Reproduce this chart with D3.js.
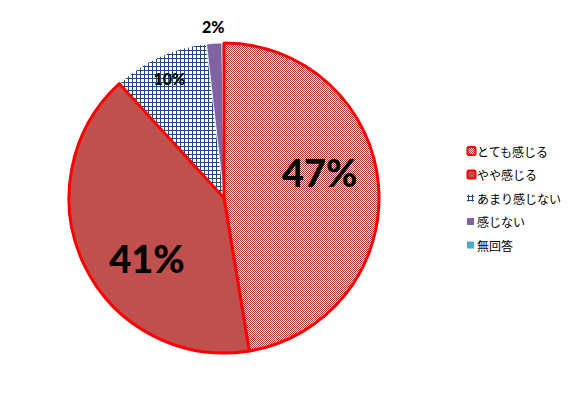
<!DOCTYPE html>
<html><head><meta charset="utf-8">
<script src="https://cdn.jsdelivr.net/npm/d3@7"></script>
<style>html,body{margin:0;padding:0;background:#fff;}svg{display:block;}</style>
</head><body>
<svg id="c" width="576" height="399"></svg>
<script>
const categories = ["とても感じる", "やや感じる", "あまり感じない", "感じない", "無回答"];
const values = [47.4, 40.8, 10.0, 1.6, 0.2];
const labels = ["47%", "41%", "10%", "2%", ""];

const svg = d3.select("#c");
const cx = 224, cy = 198, R = 155;

const defs = svg.append("defs");
const p1 = defs.append("pattern").attr("id", "chk").attr("patternUnits", "userSpaceOnUse")
  .attr("width", 2).attr("height", 2);
p1.append("rect").attr("width", 2).attr("height", 2).attr("fill", "#fff");
p1.append("rect").attr("width", 1).attr("height", 1).attr("fill", "#A8302E");
p1.append("rect").attr("x", 1).attr("y", 1).attr("width", 1).attr("height", 1).attr("fill", "#A8302E");
const p2 = defs.append("pattern").attr("id", "grid").attr("patternUnits", "userSpaceOnUse")
  .attr("width", 4).attr("height", 4);
p2.append("rect").attr("width", 4).attr("height", 4).attr("fill", "#fff");
p2.append("rect").attr("width", 4).attr("height", 1).attr("fill", "#1F497D");
p2.append("rect").attr("width", 1).attr("height", 4).attr("fill", "#1F497D");

const fills = ["url(#chk)", "#C0504D", "url(#grid)", "#8064A2", "#4BACC6"];
const strokes = ["#FF0000", "#FF0000", "#fff", "#fff", "#fff"];
const strokeW = [3, 3, 0.75, 0.75, 0.75];

const pie = d3.pie().sort(null).value(d => d);
const arcs = pie(values);
const arc = d3.arc().innerRadius(0).outerRadius(R);

const g = svg.append("g").attr("transform", `translate(${cx},${cy})`);
[2, 3, 4, 0, 1].forEach(i => {
  g.append("path").attr("d", arc(arcs[i]))
    .attr("fill", fills[i]).attr("stroke", strokes[i])
    .attr("stroke-width", strokeW[i]).attr("stroke-linejoin", "round");
});

const labRad = [0.64, 0.63, 0.85, 1.11, 1.1];
const labNudge = [-10.5, -12, 0, 0, 0];
const labSize = [38, 38, 16, 16, 15];
arcs.forEach((a, i) => {
  if (!labels[i]) return;
  const ang = (a.startAngle + a.endAngle) / 2 + labNudge[i] * Math.PI / 180;
  const r = R * labRad[i];
  g.append("text")
    .attr("x", r * Math.sin(ang)).attr("y", -r * Math.cos(ang))
    .attr("text-anchor", "middle").attr("dominant-baseline", "central")
    .attr("font-family", "Lato, 'Open Sans', sans-serif").attr("font-weight", 900)
    .attr("font-size", labSize[i]).attr("fill", "#000")
    .text(labels[i]);
});

const ly = d3.scalePoint().domain(categories).range([151, 245]);
const lg = svg.append("g");
categories.forEach((c, i) => {
  const y = ly(c);
  if (i < 2) {
    lg.append("rect").attr("x", 467.5).attr("y", y - 4).attr("width", 8).attr("height", 8)
      .attr("rx", 1.5).attr("fill", fills[i]).attr("stroke", "#FF0000").attr("stroke-width", 2);
  } else {
    lg.append("rect").attr("x", 467).attr("y", y - 3.5).attr("width", 7).attr("height", 7)
      .attr("fill", fills[i]);
  }
  lg.append("text").attr("x", 477).attr("y", y).attr("dominant-baseline", "central")
    .attr("font-family", "'Noto Sans CJK JP', sans-serif").attr("font-size", 12)
    .attr("fill", "#000").text(c);
});
</script>
</body></html>
